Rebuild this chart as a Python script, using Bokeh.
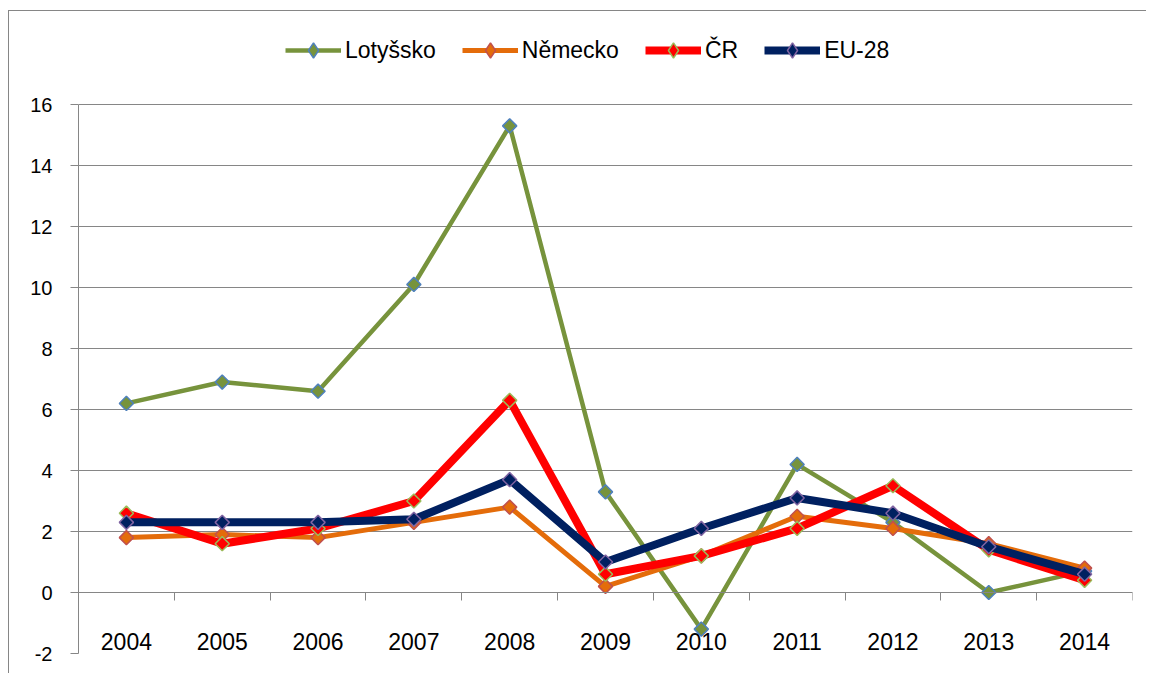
import math
from bokeh.plotting import figure
from bokeh.models import FixedTicker, Range1d, Legend, LegendItem
from bokeh.embed import file_html
from bokeh.resources import INLINE

years = ["2004", "2005", "2006", "2007", "2008", "2009", "2010", "2011", "2012", "2013", "2014"]
lotyssko = [6.2, 6.9, 6.6, 10.1, 15.3, 3.3, -1.2, 4.2, 2.3, 0.0, 0.7]
nemecko = [1.8, 1.9, 1.8, 2.3, 2.8, 0.2, 1.2, 2.5, 2.1, 1.6, 0.8]
cr = [2.6, 1.6, 2.1, 3.0, 6.3, 0.6, 1.2, 2.1, 3.5, 1.4, 0.4]
eu28 = [2.3, 2.3, 2.3, 2.4, 3.7, 1.0, 2.1, 3.1, 2.6, 1.5, 0.6]
series_names = ["Lotyšsko", "Německo", "ČR", "EU-28"]
y_ticks = [-2, 0, 2, 4, 6, 8, 10, 12, 14, 16]

FONT = "Liberation Sans"
GRAY = "#868686"

n = len(years)
xc = [i + 0.5 for i in range(n)]

# frame runs to the top of the canvas so that the legend (above the 16 line) is inside it
p = figure(width=1138, height=663,
           x_range=Range1d(0, n), y_range=Range1d(y_ticks[0], 19.05),
           output_backend="svg", toolbar_location=None,
           min_border_left=69, min_border_right=15, min_border_top=0, min_border_bottom=21)
p.styles = {"position": "relative", "left": "8px", "top": "10px",
            "border-left": "1px solid #868686", "border-top": "1px solid #868686"}
p.outline_line_color = None
p.background_fill_color = "white"

# y axis
p.yaxis.ticker = FixedTicker(ticks=y_ticks)
p.yaxis.bounds = (y_ticks[0], y_ticks[-1])
p.yaxis.major_label_overrides = {t: str(t) for t in y_ticks}
p.yaxis.axis_line_color = GRAY
p.yaxis.major_tick_line_color = GRAY
p.yaxis.major_tick_out = 8
p.yaxis.major_tick_in = 0
p.yaxis.minor_tick_line_color = None
p.yaxis.major_label_standoff = 18
p.yaxis.major_label_text_font = FONT
p.yaxis.major_label_text_font_size = "20px"
p.yaxis.major_label_text_color = "black"

# x axis at y=0: boundary ticks (minor), year labels at category centres
p.xaxis.fixed_location = 0
p.xaxis.ticker = FixedTicker(ticks=xc, minor_ticks=list(range(n + 1)))
p.xaxis.major_label_overrides = {x: y for x, y in zip(xc, years)}
p.xaxis.axis_line_color = GRAY
p.xaxis.major_tick_line_color = None
p.xaxis.major_tick_out = 0
p.xaxis.major_tick_in = 0
p.xaxis.minor_tick_line_color = GRAY
p.xaxis.minor_tick_out = 8
p.xaxis.minor_tick_in = 0
p.xaxis.major_label_standoff = 32
p.xaxis.major_label_text_font = FONT
p.xaxis.major_label_text_font_size = "23px"
p.xaxis.major_label_text_color = "black"

p.xgrid.visible = False
p.ygrid.ticker = FixedTicker(ticks=y_ticks)
p.ygrid.grid_line_color = GRAY
p.ygrid.grid_line_width = 1

styles = [
    (lotyssko, "#77933C", 4.5, "#77933C", "#4F81BD"),
    (nemecko, "#E46C0A", 5, "#E46C0A", "#C0504D"),
    (cr, "#FF0000", 8, "#FF0000", "#9BBB59"),
    (eu28, "#002060", 8, "#002060", "#8064A2"),
]

items = []
for name, (vals, lc, lw, fc, oc) in zip(series_names, styles):
    rl = p.line(xc, vals, line_color=lc, line_width=lw, line_join="round")
    # diamond markers (used for the legend swatch; covered by the rotated squares in the plot)
    rk = p.scatter(xc, vals, marker="diamond", size=7, fill_color=fc, line_color=oc, line_width=1.5)
    p.scatter(xc, vals, marker="square", angle=math.pi / 4, size=10,
              fill_color=fc, line_color=oc, line_width=1.5)
    items.append(LegendItem(label=name, renderers=[rl, rk]))

legend = Legend(items=items, orientation="horizontal", location=(207, 584),
                glyph_width=56, glyph_height=38, label_standoff=4, spacing=26,
                padding=0, margin=0, border_line_color=None, background_fill_alpha=0,
                label_text_font=FONT, label_text_font_size="23px", label_text_color="black")
p.add_layout(legend, "center")

open("out.html", "w").write(file_html(p, INLINE))
